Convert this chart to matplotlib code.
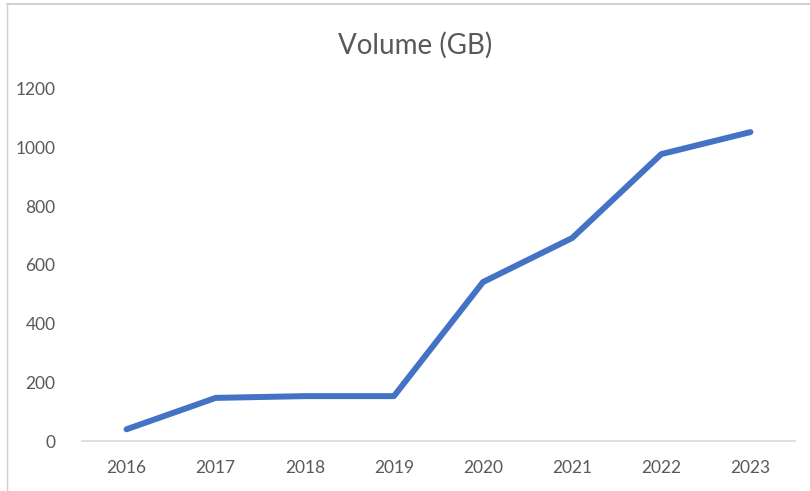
import matplotlib.pyplot as plt
from matplotlib.lines import Line2D

years = ["2016", "2017", "2018", "2019", "2020", "2021", "2022", "2023"]
volume_gb = [40, 147, 153, 153, 542, 692, 978, 1053]
y_ticks = [0, 200, 400, 600, 800, 1000, 1200]

plt.rcParams["font.family"] = ["Lato", "DejaVu Sans"]

fig = plt.figure(figsize=(8.1, 4.91), dpi=100)
ax = fig.add_axes([0.1012, 0.1018, 0.8803, 0.717])

x = range(len(years))
ax.plot(x, volume_gb, color="#4472C4", linewidth=4.3,
        solid_capstyle="round", solid_joinstyle="round")

ax.set_xlim(-0.5, len(years) - 0.5)
ax.set_ylim(0, 1200)
ax.set_xticks(list(x))
ax.set_xticklabels(years)
ax.set_yticks(y_ticks)

for s in ["top", "right", "left"]:
    ax.spines[s].set_visible(False)
ax.spines["bottom"].set_color("#d9d9d9")
ax.spines["bottom"].set_linewidth(1.2)

ax.tick_params(axis="both", length=0, labelsize=12.5, colors="#595959")
ax.tick_params(axis="x", pad=14)
ax.tick_params(axis="y", pad=19)

fig.text(0.512, 0.908, "Volume (GB)", ha="center", va="center",
         fontsize=20, color="#595959")

# outer chart border (top and left edges visible in the screenshot)
fig.add_artist(Line2D([7 / 810, 1.0], [1 - 4 / 491, 1 - 4 / 491],
                      transform=fig.transFigure, color="#c8c8c8", linewidth=1.2))
fig.add_artist(Line2D([7 / 810, 7 / 810], [0.0, 1 - 4 / 491],
                      transform=fig.transFigure, color="#d0d0d0", linewidth=1.0))

fig.savefig("out.png", dpi=100)
